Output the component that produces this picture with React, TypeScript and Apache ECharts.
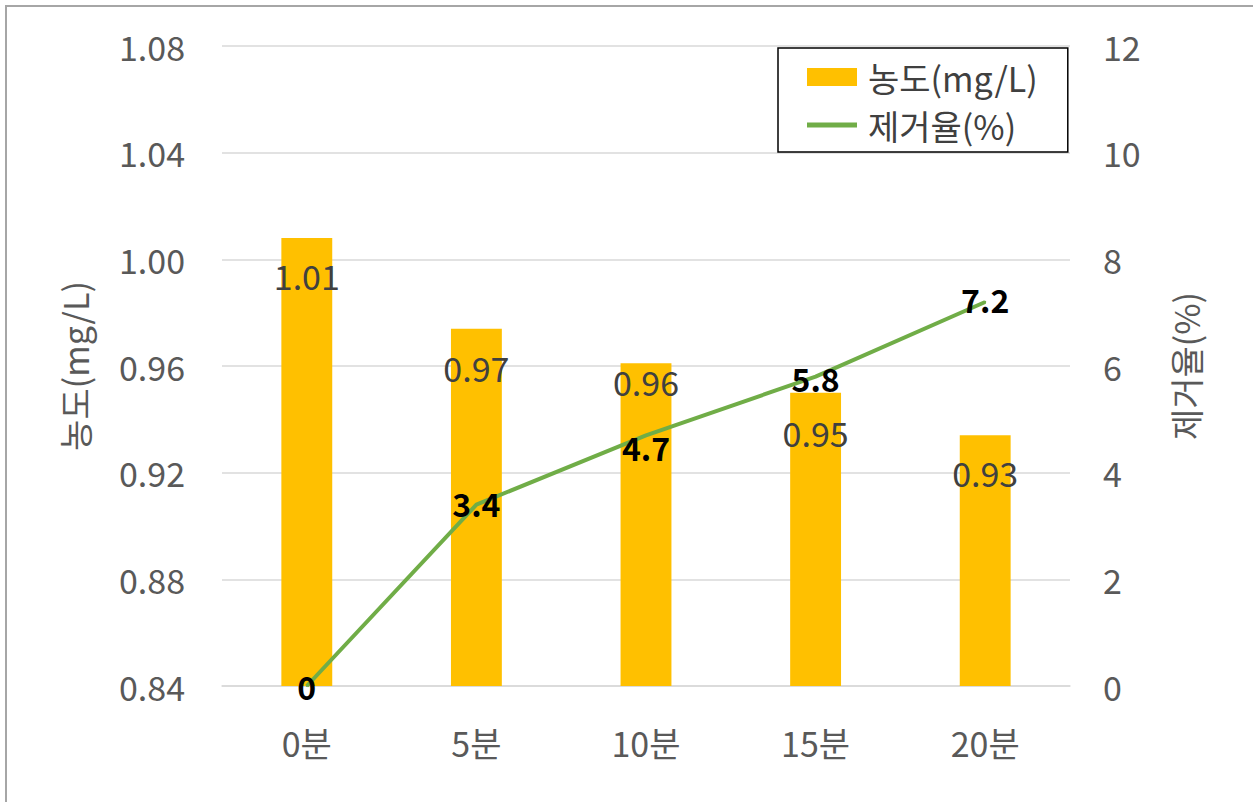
import React, { useEffect, useRef } from "react";
import * as echarts from "echarts";

const categories = ["0분", "5분", "10분", "15분", "20분"];
const concentration = [1.008, 0.974, 0.961, 0.95, 0.934];
const removalRate = [0, 3.4, 4.7, 5.8, 7.2];
const barLabelDistance = [20, 22, 1, 23, 20];
const lineLabelOffsetY = [0, -2, 12, 1, -3];

const FONT = "'Noto Sans CJK KR', 'Noto Sans', sans-serif";

export default function App() {
  const ref = useRef<HTMLDivElement>(null);
  useEffect(() => {
    if (!ref.current) return;
    const chart = echarts.init(ref.current, undefined, { renderer: "svg" });
    chart.setOption({
      animation: false,
      backgroundColor: "#ffffff",
      textStyle: { fontFamily: FONT },
      grid: { left: 222, right: 183, top: 46, bottom: 116, containLabel: false },
      legend: {
        left: 778,
        top: 48,
        orient: "vertical",
        borderColor: "#000000",
        borderWidth: 1.5,
        padding: [10, 30, 8, 29],
        itemGap: 10,
        itemWidth: 50,
        itemHeight: 18,
        textStyle: { fontSize: 34, color: "#404040", lineHeight: 38, fontFamily: FONT, padding: [0, 0, 0, 6] },
        data: [
          { name: "농도(mg/L)", icon: "rect" },
          { name: "제거율(%)", icon: "path://M0,0 L50,0 L50,5 L0,5 Z" },
        ],
      },
      xAxis: {
        type: "category",
        data: categories,
        axisLine: { lineStyle: { color: "#d9d9d9", width: 1.5 } },
        axisTick: { show: false },
        axisLabel: { color: "#595959", fontSize: 34, margin: 39, fontFamily: FONT },
      },
      yAxis: [
        {
          type: "value",
          min: 0.84,
          max: 1.08,
          interval: 0.04,
          name: "농도(mg/L)",
          nameLocation: "middle",
          nameRotate: 90,
          nameGap: 131,
          nameTextStyle: { color: "#595959", fontSize: 34, fontFamily: FONT },
          axisLine: { show: false },
          axisTick: { show: false },
          splitLine: { lineStyle: { color: "#d9d9d9", width: 1.5 } },
          axisLabel: {
            color: "#595959",
            fontSize: 34,
            margin: 37,
            fontFamily: FONT,
            formatter: (v: number) => v.toFixed(2),
          },
        },
        {
          type: "value",
          min: 0,
          max: 12,
          interval: 2,
          name: "제거율(%)",
          nameLocation: "middle",
          nameRotate: 90,
          nameGap: 98,
          nameTextStyle: { color: "#595959", fontSize: 34, fontFamily: FONT },
          axisLine: { show: false },
          axisTick: { show: false },
          splitLine: { show: false },
          axisLabel: { color: "#595959", fontSize: 34, margin: 33, fontFamily: FONT },
        },
      ],
      series: [
        {
          name: "농도(mg/L)",
          type: "bar",
          yAxisIndex: 0,
          barWidth: "30%",
          itemStyle: { color: "#FFC000" },
          data: concentration.map((v, i) => ({
            value: v,
            label: {
              show: true,
              position: "insideTop",
              distance: barLabelDistance[i],
              formatter: () => v.toFixed(2),
              color: "#404040",
              fontSize: 34,
              fontFamily: FONT,
            },
          })),
          z: 2,
        },
        {
          name: "제거율(%)",
          type: "line",
          yAxisIndex: 1,
          symbol: "circle",
          symbolSize: 2,
          showSymbol: true,
          lineStyle: { color: "#70AD47", width: 4 },
          itemStyle: { color: "#70AD47" },
          data: removalRate.map((v, i) => ({
            value: v,
            label: {
              show: true,
              position: "inside",
              offset: [0, lineLabelOffsetY[i]],
              formatter: () => String(v),
              color: "#000000",
              fontWeight: "bold",
              fontSize: 32,
              fontFamily: FONT,
            },
          })),
          z: 3,
        },
      ],
    });
    return () => chart.dispose();
  }, []);
  return (
    <div style={{ position: "fixed", left: 0, top: 0, width: 1253, height: 802, background: "#fff" }}>
      <div ref={ref} style={{ position: "absolute", left: 0, top: 0, width: 1253, height: 802 }} />
      <div
        style={{
          position: "absolute",
          left: 5,
          top: 5,
          width: 1260,
          height: 810,
          border: "2px solid #a6a6a6",
          pointerEvents: "none",
        }}
      />
    </div>
  );
}
